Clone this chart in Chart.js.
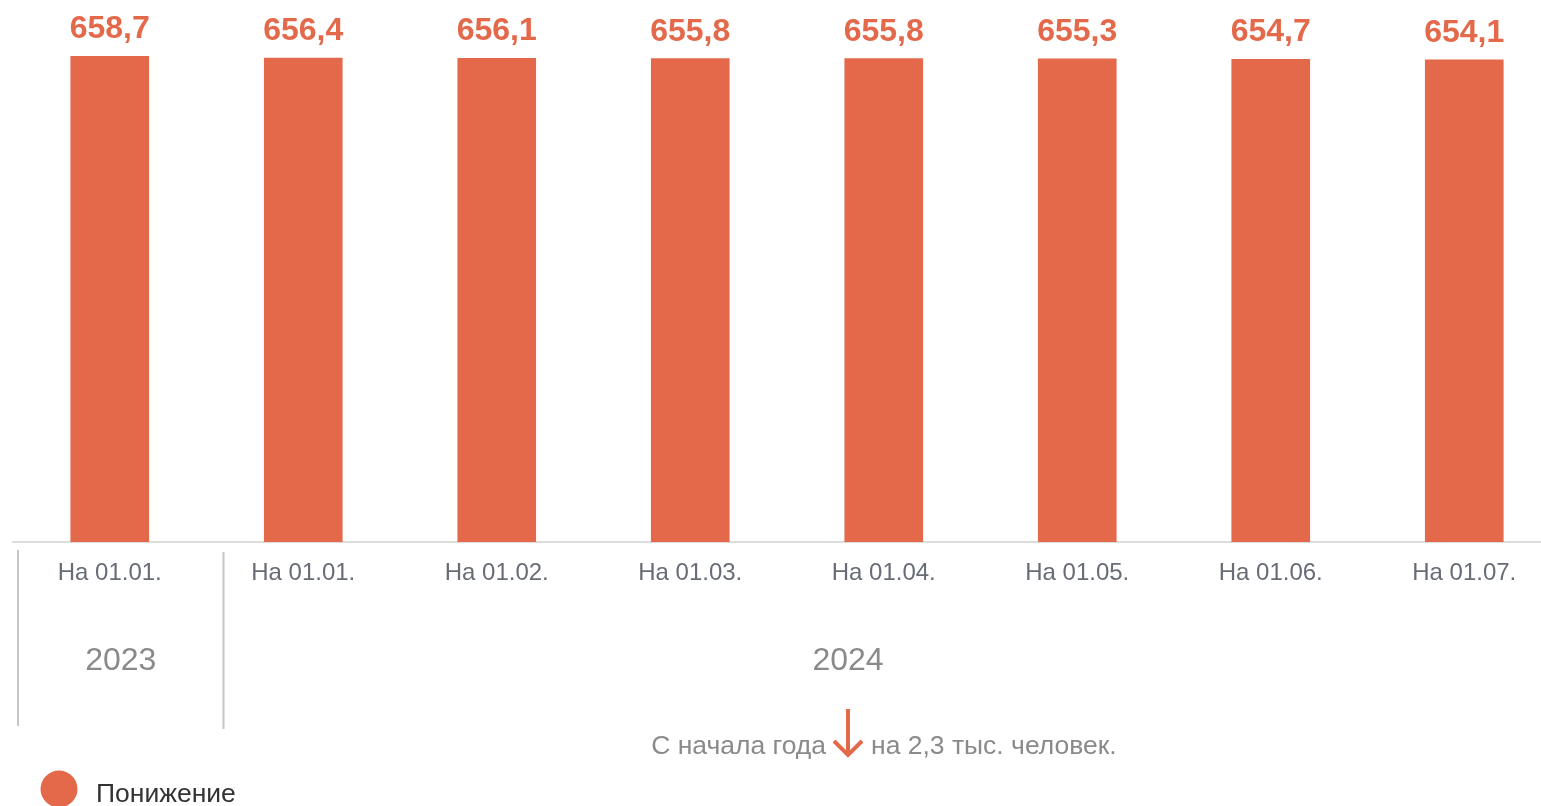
<!DOCTYPE html>
<html>
<head>
<meta charset="utf-8">
<script src="https://cdn.jsdelivr.net/npm/chart.js@4.4.1/dist/chart.umd.min.js"></script>
<style>
  html, body { margin: 0; padding: 0; background: #ffffff; overflow: hidden; }
  #wrap { width: 1561px; height: 806px; position: relative; }
</style>
</head>
<body>
<div id="wrap"><canvas id="c" width="1561" height="806"></canvas></div>
<script>
const categories = ["На 01.01.", "На 01.01.", "На 01.02.", "На 01.03.", "На 01.04.", "На 01.05.", "На 01.06.", "На 01.07."];
const values = [658.7, 656.4, 656.1, 655.8, 655.8, 655.3, 654.7, 654.1];
const years = ["2023", "2024"];
const seriesLabel = "Понижение";
const noteBefore = "С начала года";
const noteAfter = "на 2,3 тыс. человек.";

const ORANGE = "#E3694A";
const FONT = "'Liberation Sans', Arial, sans-serif";

const fmt = v => v.toFixed(1).replace(".", ",");

const extras = {
  id: "extras",
  afterDatasetsDraw(chart) {
    const ctx = chart.ctx;
    const meta = chart.getDatasetMeta(0);
    ctx.save();
    ctx.fillStyle = ORANGE;
    ctx.font = "bold 32px " + FONT;
    ctx.textAlign = "center";
    ctx.textBaseline = "alphabetic";
    meta.data.forEach((bar, i) => {
      ctx.fillText(fmt(values[i]), bar.x, bar.y - 18);
    });
    ctx.restore();
  },
  afterDraw(chart) {
    const ctx = chart.ctx;
    const xs = chart.scales.x;
    const area = chart.chartArea;
    ctx.save();
    const sep1 = area.left + 5;
    const sep2 = (xs.getPixelForValue(0) + xs.getPixelForValue(1)) / 2 + 17;
    ctx.strokeStyle = "#c6c6c6";
    ctx.lineWidth = 2;
    ctx.beginPath();
    ctx.moveTo(sep1, 550); ctx.lineTo(sep1, 726);
    ctx.moveTo(sep2, 552); ctx.lineTo(sep2, 729);
    ctx.stroke();
    ctx.fillStyle = "#8a8a8a";
    ctx.font = "32px " + FONT;
    ctx.textAlign = "center";
    ctx.textBaseline = "middle";
    ctx.fillText(years[0], (sep1 + sep2) / 2, 661);
    ctx.fillText(years[1], 848, 661);
    const ax = 848;
    ctx.font = "26.5px " + FONT;
    ctx.fillStyle = "#8a8a8a";
    ctx.textAlign = "right";
    ctx.fillText(noteBefore, ax - 22, 747);
    ctx.textAlign = "left";
    ctx.fillText(noteAfter, ax + 23, 747);
    ctx.strokeStyle = ORANGE;
    ctx.lineWidth = 4;
    ctx.beginPath();
    ctx.moveTo(ax, 709); ctx.lineTo(ax, 754);
    ctx.moveTo(ax - 14, 741); ctx.lineTo(ax, 755); ctx.lineTo(ax + 14, 741);
    ctx.stroke();
    ctx.fillStyle = ORANGE;
    ctx.beginPath();
    ctx.arc(59, 789, 18.5, 0, Math.PI * 2);
    ctx.fill();
    ctx.fillStyle = "#333333";
    ctx.font = "26.5px " + FONT;
    ctx.textAlign = "left";
    ctx.fillText(seriesLabel, 96, 795);
    ctx.restore();
  }
};

new Chart(document.getElementById("c"), {
  type: "bar",
  data: {
    labels: categories,
    datasets: [{
      label: seriesLabel,
      data: values,
      backgroundColor: ORANGE,
      borderWidth: 0,
      barThickness: 78
    }]
  },
  options: {
    responsive: false,
    animation: false,
    layout: { padding: { left: 13, top: 26, right: 0, bottom: 0 } },
    plugins: { legend: { display: false }, tooltip: { enabled: false } },
    scales: {
      y: { display: false, min: 0, max: 700 },
      x: {
        grid: { display: false, drawTicks: false },
        border: { display: true, color: "#dcdcdc", width: 2 },
        ticks: {
          color: "#676c75",
          font: { family: FONT, size: 24 },
          padding: 17,
          maxRotation: 0,
          autoSkip: false
        },
        afterFit(scale) { scale.height = 264; }
      }
    }
  },
  plugins: [extras]
});
</script>
</body>
</html>
